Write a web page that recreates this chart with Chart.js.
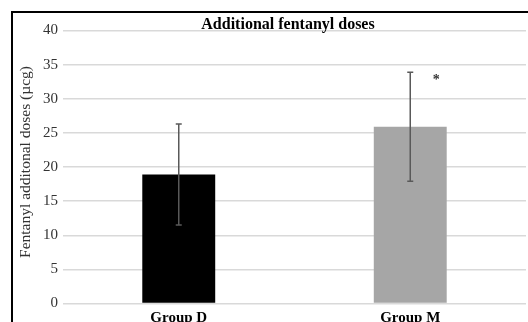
<!DOCTYPE html>
<html>
<head>
<meta charset="utf-8">
<script src="https://cdn.jsdelivr.net/npm/chart.js@4"></script>
<style>
  html, body { margin: 0; padding: 0; background: #fff; }
  #wrap { width: 528px; height: 322px; }
</style>
</head>
<body>
<div id="wrap"><canvas id="chart" width="528" height="322"></canvas></div>
<script>
// Chart data
const groups = ['Group D', 'Group M'];
const meanDoses = [18.9, 25.9];
const errDoses = [7.4, 8.0];
const barColors = ['#000000', '#a6a6a6'];
const yTicks = [0, 5, 10, 15, 20, 25, 30, 35, 40];
const chartTitle = 'Additional fentanyl doses';
const yTitle = 'Fentanyl additonal doses (\u00b5cg)';
const sigMarks = ['', '*'];
const sigLevel = [null, 33.2];

const SERIF = "'Liberation Serif', 'Times New Roman', serif";

// frame, titles, error bars and significance mark
const extras = {
    id: 'extras',
    afterDatasetsDraw(chart) {
        const ctx = chart.ctx;
        const xs = chart.scales.x;
        const ys = chart.scales.y;
        ctx.save();

        // error bars
        ctx.strokeStyle = '#595959';
        ctx.lineWidth = 1.5;
        groups.forEach((g, i) => {
            const x = xs.getPixelForValue(i);
            const hi = ys.getPixelForValue(meanDoses[i] + errDoses[i]);
            const lo = ys.getPixelForValue(meanDoses[i] - errDoses[i]);
            ctx.beginPath();
            ctx.moveTo(x, hi); ctx.lineTo(x, lo);
            ctx.moveTo(x - 3, hi); ctx.lineTo(x + 3, hi);
            ctx.moveTo(x - 3, lo); ctx.lineTo(x + 3, lo);
            ctx.stroke();
        });

        // significance mark
        ctx.fillStyle = '#333';
        ctx.font = 'bold 14px ' + SERIF;
        ctx.textAlign = 'center';
        ctx.textBaseline = 'middle';
        sigMarks.forEach((m, i) => {
            if (!m) return;
            ctx.fillText(m, xs.getPixelForValue(i) + 26, ys.getPixelForValue(sigLevel[i]) + 3);
        });

        // chart title
        ctx.fillStyle = '#000';
        ctx.font = 'bold 16px ' + SERIF;
        ctx.textBaseline = 'alphabetic';
        ctx.fillText(chartTitle, 288, 28.5);

        // y axis title
        ctx.save();
        ctx.translate(26, 162);
        ctx.rotate(-Math.PI / 2);
        ctx.fillStyle = '#333';
        ctx.font = '15.5px ' + SERIF;
        ctx.textBaseline = 'middle';
        ctx.fillText(yTitle, 0, 0);
        ctx.restore();

        // frame
        ctx.strokeStyle = '#000';
        ctx.lineWidth = 2;
        ctx.beginPath();
        ctx.moveTo(12, 322);
        ctx.lineTo(12, 12);
        ctx.lineTo(528, 12);
        ctx.stroke();
        ctx.restore();
    }
};

new Chart(document.getElementById('chart'), {
    type: 'bar',
    data: {
        labels: groups,
        datasets: [{
            data: meanDoses,
            backgroundColor: barColors,
            borderWidth: 0,
            barPercentage: 0.315,
            categoryPercentage: 1
        }]
    },
    options: {
        responsive: false,
        animation: false,
        layout: { padding: { left: 0, right: 2, top: 30.5, bottom: 0 } },
        plugins: {
            legend: { display: false },
            tooltip: { enabled: false }
        },
        scales: {
            x: {
                grid: { display: false },
                border: { display: false },
                ticks: {
                    color: '#000',
                    padding: -2,
                    font: { family: SERIF, size: 15, weight: 'bold' }
                },
                afterFit(scale) { scale.height = 18.5; }
            },
            y: {
                min: 0,
                max: 40,
                afterBuildTicks(scale) { scale.ticks = yTicks.map(v => ({ value: v })); },
                grid: { color: '#d9d9d9', lineWidth: 1.5, drawTicks: false },
                border: { display: false },
                ticks: {
                    color: '#333',
                    padding: 5,
                    font: { family: SERIF, size: 15 }
                },
                afterFit(scale) { scale.width = 63; }
            }
        }
    },
    plugins: [extras]
});
</script>
</body>
</html>
